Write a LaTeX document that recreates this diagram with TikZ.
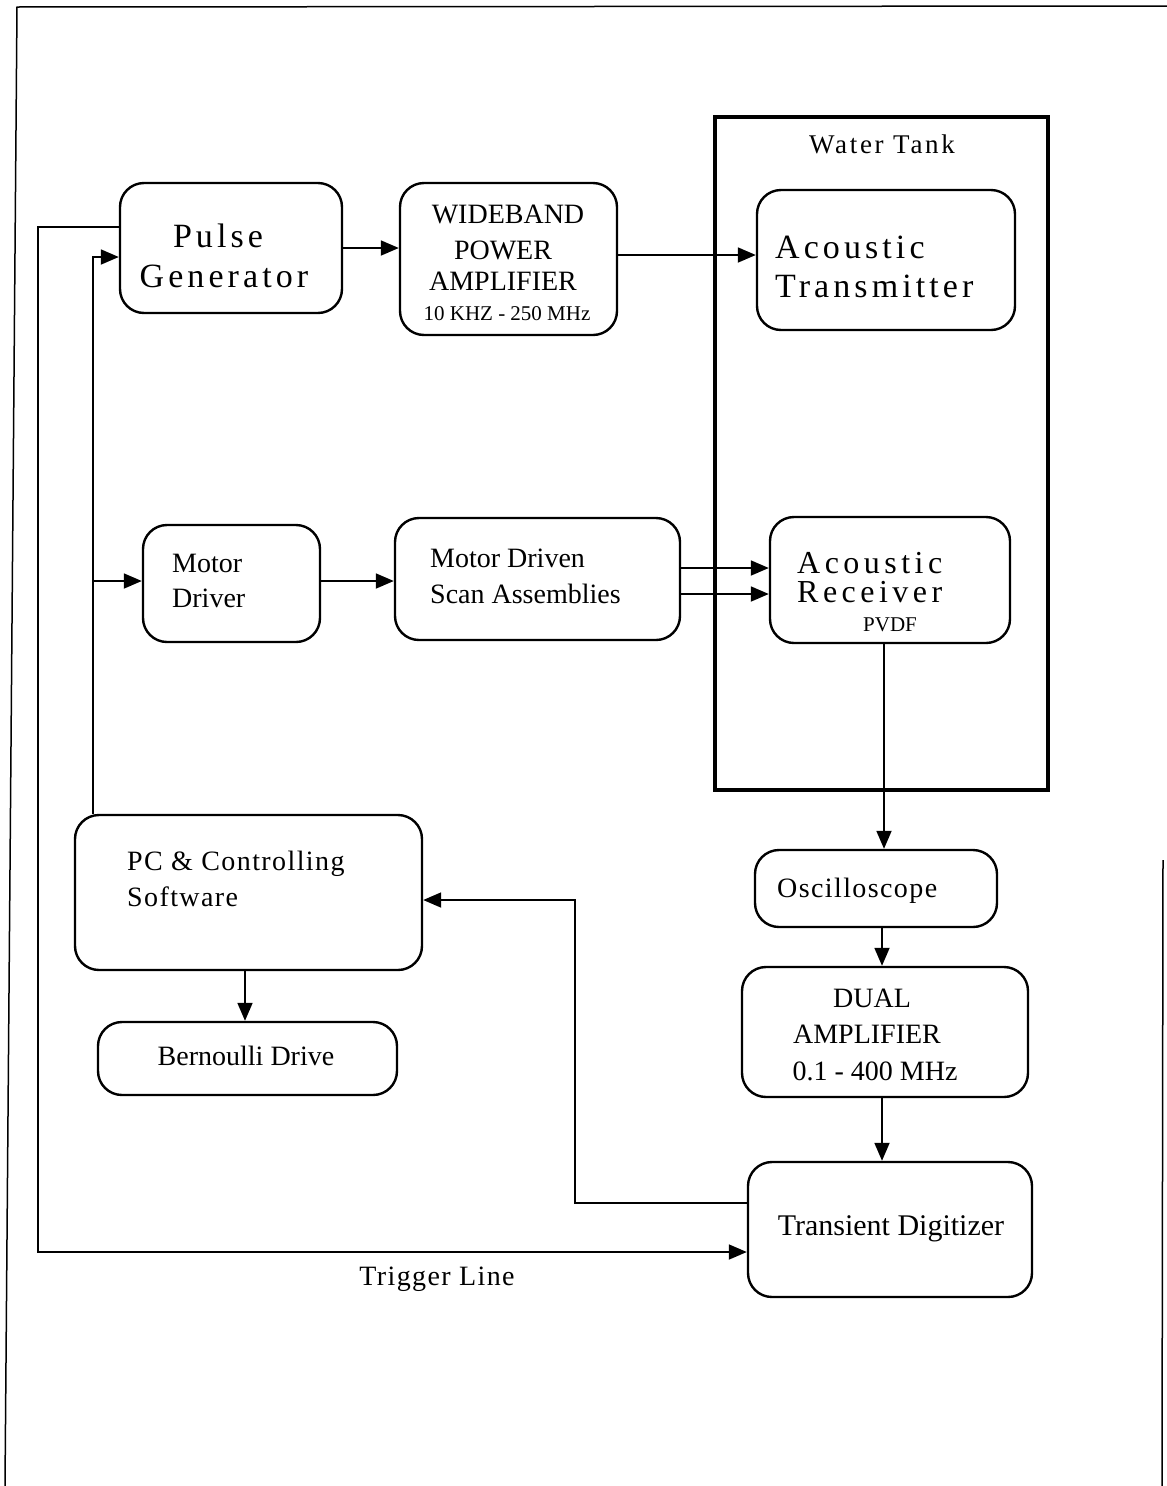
\documentclass[tikz,border=0pt]{standalone}
\usepackage{fontspec}
\setmainfont{Liberation Serif}
\newfontfamily\bigsp[LetterSpace=12]{Liberation Serif}
\newfontfamily\rcvsp[LetterSpace=14]{Liberation Serif}
\newfontfamily\medsp[LetterSpace=5]{Liberation Serif}
\newfontfamily\tanksp[LetterSpace=10]{Liberation Serif}
\usetikzlibrary{arrows.meta}
\tikzset{
  box/.style={draw, line width=2.4pt, rounded corners=24pt, inner sep=0pt},
  tankbox/.style={draw, line width=4.5pt, inner sep=0pt},
  conn/.style={line width=1.8pt},
  arr/.style={conn, -{Triangle[length=18pt,width=15pt]}},
  lbl/.style={inner sep=0pt, anchor=base, font=\fontsize{28}{30}\selectfont},
  lblw/.style={lbl, anchor=base west},
  mlbl/.style={inner sep=0pt, anchor=base west, font=\medsp\fontsize{28}{30}\selectfont},
  biglbl/.style={inner sep=0pt, anchor=base west, font=\bigsp\fontsize{34}{36}\selectfont},
  biglblc/.style={biglbl, anchor=base},
  rcvlbl/.style={inner sep=0pt, anchor=base west, font=\rcvsp\fontsize{32}{33}\selectfont},
  small/.style={inner sep=0pt, anchor=base, font=\fontsize{21}{23}\selectfont},
  frame/.style={line width=1.5pt}
}
\begin{document}
\begin{tikzpicture}[x=1pt,y=-1pt]
\useasboundingbox (0,0) rectangle (1167,1486);
% outer frame
\draw[frame] (5,1486) -- (17,7) -- (1167,6);
\draw[frame] (1163,860) -- (1162,1486);

% water tank
\node[tankbox, minimum width=333pt, minimum height=673pt] (tank) at (881.5,453.5) {};
\node[inner sep=0pt, anchor=base, font=\tanksp\fontsize{27}{29}\selectfont] (tanklbl) at (882,153) {Water Tank};

% boxes
\node[box, minimum width=222pt, minimum height=130pt] (pg) at (231,248) {};
\node[box, minimum width=217pt, minimum height=152pt] (wb) at (508.5,259) {};
\node[box, minimum width=258pt, minimum height=140pt] (at) at (886,260) {};
\node[box, minimum width=177pt, minimum height=117pt] (md) at (231.5,583.5) {};
\node[box, minimum width=285pt, minimum height=122pt] (ms) at (537.5,579) {};
\node[box, minimum width=240pt, minimum height=126pt] (ar) at (890,580) {};
\node[box, minimum width=242pt, minimum height=77pt] (osc) at (876,888.5) {};
\node[box, minimum width=286pt, minimum height=130pt] (dual) at (885,1032) {};
\node[box, minimum width=284pt, minimum height=135pt] (td) at (890,1229.5) {};
\node[box, minimum width=347pt, minimum height=155pt] (pc) at (248.5,892.5) {};
\node[box, minimum width=299pt, minimum height=73pt] (bd) at (247.5,1058.5) {};

% texts
\node[biglblc] (pg1) at (218,247) {Pulse};
\node[biglblc] (pg2) at (224,287) {Generator};
\node[lbl] (wb1) at (508,223) {WIDEBAND};
\node[lbl] (wb2) at (503,259) {POWER};
\node[lbl] (wb3) at (503,290) {AMPLIFIER};
\node[small] (wb4) at (507,320) {10 KHZ - 250 MHz};
\node[biglbl] (at1) at (775,258) {Acoustic};
\node[biglbl] (at2) at (775,297) {Transmitter};
\node[lblw] (md1) at (172,572) {Motor};
\node[lblw] (md2) at (172,607) {Driver};
\node[lblw] (ms1) at (430,567) {Motor Driven};
\node[lblw] (ms2) at (430,603) {Scan Assemblies};
\node[rcvlbl] (ar1) at (797,573) {Acoustic};
\node[rcvlbl] (ar2) at (797,602) {Receiver};
\node[small] (ar3) at (890,631) {PVDF};
\node[mlbl] (osc1) at (777,897) {Oscilloscope};
\node[lbl] (du1) at (872,1007) {DUAL};
\node[lbl] (du2) at (867,1043) {AMPLIFIER};
\node[lbl] (du3) at (875,1080) {0.1 - 400 MHz};
\node[inner sep=0pt, anchor=base, font=\fontsize{30}{32}\selectfont] (td1) at (891,1235) {Transient Digitizer};
\node[mlbl] (pc1) at (127,870) {PC \& Controlling};
\node[mlbl] (pc2) at (127,906) {Software};
\node[lbl] (bd1) at (246,1065) {Bernoulli Drive};
\node[inner sep=0pt, anchor=base, font=\medsp\fontsize{28}{30}\selectfont] (trig) at (437,1285) {Trigger Line};

% connectors
\draw[arr] (pg.east) -- (pg.east -| wb.west);
\draw[arr] (wb.east |- 0,255) -- (at.west |- 0,255);
\draw[arr] (md.east |- 0,581) -- (ms.west |- 0,581);
\draw[arr] (ms.east |- 0,568) -- (ar.west |- 0,568);
\draw[arr] (ms.east |- 0,594) -- (ar.west |- 0,594);
\draw[arr] (ar.south -| 884,0) -- (osc.north -| 884,0);
\draw[arr] (osc.south -| 882,0) -- (dual.north -| 882,0);
\draw[arr] (dual.south -| 882,0) -- (td.north -| 882,0);
\draw[arr] (pc.south -| 245,0) -- (bd.north -| 245,0);
\draw[arr] (td.west |- 0,1203) -- (575,1203) -- (575,900) -- (pc.east |- 0,900);
\draw[arr] (pg.west |- 0,227) -- (38,227) -- (38,1252) -- (td.west |- 0,1252);
\draw[arr] (pc.north -| 93,0) -- (93,257) -- (pg.west |- 0,257);
\draw[arr] (93,581) -- (md.west |- 0,581);
\end{tikzpicture}
\end{document}
